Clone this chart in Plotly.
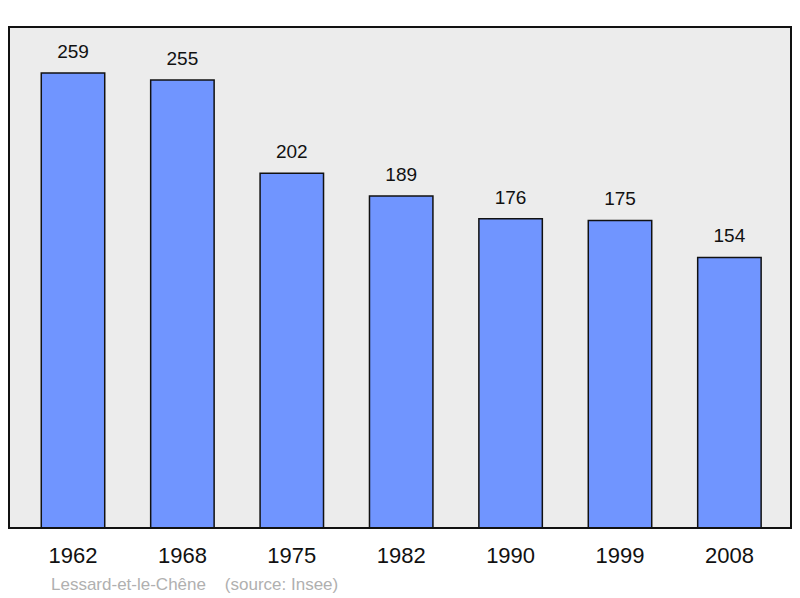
import plotly.graph_objects as go

years = ["1962", "1968", "1975", "1982", "1990", "1999", "2008"]
population = [259, 255, 202, 189, 176, 175, 154]
source_text = "Lessard-et-le-Chêne    (source: Insee)"

FONT = "Liberation Sans, Arial, sans-serif"

fig = go.Figure()
fig.add_trace(go.Bar(
    x=years, y=population, width=0.58,
    marker=dict(color="#7095ff", line=dict(color="#111111", width=1.5)),
    hoverinfo="skip",
))
fig.add_trace(go.Scatter(
    x=years, y=population, mode="markers+text", text=[str(v) for v in population],
    textposition="top center", cliponaxis=False, hoverinfo="skip",
    marker=dict(size=15, color="rgba(0,0,0,0)"),
    textfont=dict(family=FONT, size=19, color="#111111"),
))

fig.add_shape(type="rect", xref="paper", yref="paper", x0=0, y0=0, x1=1, y1=1,
              line=dict(color="#111", width=2), layer="above")
fig.add_annotation(xref="paper", yref="paper", x=0.051, y=0, yshift=-56, xanchor="left",
                   yanchor="middle", showarrow=False, text=source_text,
                   font=dict(family=FONT, size=17, color="#b0b0b0"))

fig.update_layout(
    width=800, height=598,
    margin=dict(l=9, r=9, t=27, b=70),
    paper_bgcolor="white", plot_bgcolor="#ececec",
    showlegend=False,
    xaxis=dict(type="category", range=[-0.585, 6.563], showgrid=False, zeroline=False, ticks="",
               tickfont=dict(family=FONT, size=22, color="#111"),
               ticklabelstandoff=12),
    yaxis=dict(range=[0, 285.2], showgrid=False, zeroline=False, showticklabels=False),
)
fig.write_html("out.html", config={"displayModeBar": False},
               post_script="document.body.style.margin='0';document.body.style.overflow='hidden';")
